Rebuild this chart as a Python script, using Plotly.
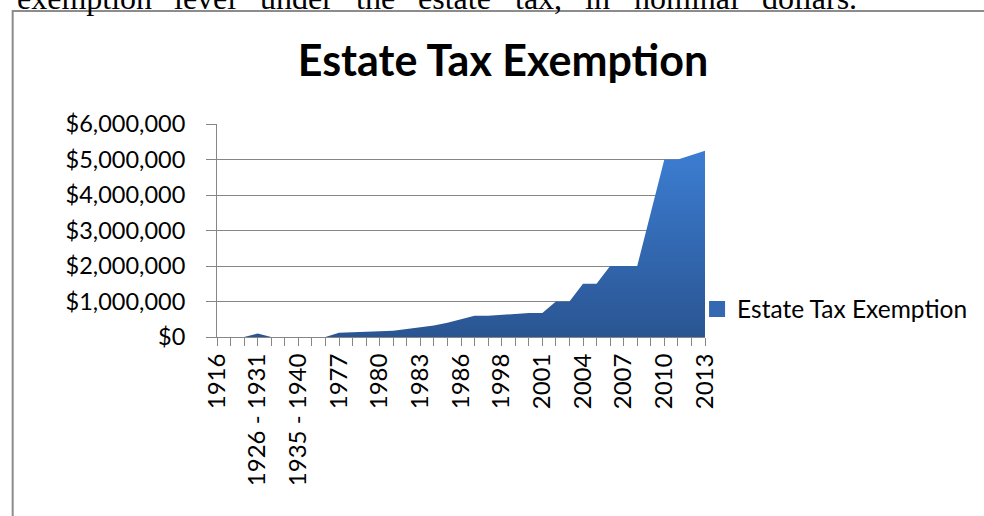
import plotly.graph_objects as go

categories = ["1916", "1917 - 1923", "1924 - 1925", "1926 - 1931", "1932 - 1933", "1934",
              "1935 - 1940", "1941", "1942 - 1976", "1977", "1978", "1979", "1980", "1981",
              "1982", "1983", "1984", "1985", "1986", "1987", "1988 - 1997", "1998", "1999",
              "2000", "2001", "2002", "2003", "2004", "2005", "2006", "2007", "2008", "2009",
              "2010", "2011", "2012", "2013"]
exemption = [0, 0, 0, 100000, 0, 0, 0, 0, 0, 120000, 134000, 147000, 161000, 175000,
             225000, 275000, 325000, 400000, 500000, 600000, 600000, 625000, 650000,
             675000, 675000, 1000000, 1000000, 1500000, 1500000, 2000000, 2000000, 2000000,
             3500000, 5000000, 5000000, 5120000, 5250000]
series_name = "Estate Tax Exemption"
y_ticks = [0, 1000000, 2000000, 3000000, 4000000, 5000000, 6000000]
y_ticktext = ["$0", "$1,000,000", "$2,000,000", "$3,000,000", "$4,000,000", "$5,000,000", "$6,000,000"]
caption_words = ["exemption", "level", "under", "the", "estate", "tax,", "in", "nominal", "dollars."]

W, H = 984, 516
L, R, T, B = 217, 709, 124, 337


def px2x(p):
    return (p - L) / (R - L)


def px2y(p):
    return (B - p) / (B - T)


idx = list(range(len(categories)))
label_idx = idx[::3]

FONT = "Lato"
fig = go.Figure()
fig.add_trace(go.Scatter(
    x=idx, y=exemption, mode="lines", fill="tozeroy",
    line=dict(width=0, color="#2f5f9f"),
    fillgradient=dict(type="vertical",
                      colorscale=[[0, "#2a5592"], [1, "#3c7dd2"]]),
    showlegend=False, hoverinfo="skip"))
fig.add_trace(go.Scatter(
    x=[None], y=[None], mode="markers", name=series_name,
    marker=dict(symbol="square", size=18, color="#3468b2"),
    showlegend=True))

word_x = [13, 172, 258, 355, 418, 515, 586, 635, 764]
annotations = []
for w, xp in zip(caption_words, word_x):
    annotations.append(dict(text=w, x=px2x(xp), y=px2y(-2), xref="paper", yref="paper",
                            xanchor="left", yanchor="middle", showarrow=False,
                            font=dict(family="Liberation Serif", size=32, color="#000000")))

fig.update_layout(
    width=W, height=H,
    margin=dict(l=L, r=W - R, t=T, b=H - B, pad=0),
    paper_bgcolor="white", plot_bgcolor="white",
    title=dict(text="<b>Estate Tax Exemption</b>", x=503 / W, xanchor="center",
               y=1 - 61 / H, yanchor="middle",
               font=dict(family=FONT, size=43, color="#000000")),
    xaxis=dict(range=[0, len(categories) - 1], tickmode="array", tickvals=label_idx,
               ticktext=[categories[i] for i in label_idx], tickangle=-90,
               ticks="outside", ticklen=8, tickcolor="#868686", tickwidth=1,
               ticklabelstandoff=-2,
               minor=dict(dtick=1, tick0=0, ticks="outside", ticklen=8,
                          tickcolor="#868686", tickwidth=1, showgrid=False),
               showline=True, linecolor="#868686", linewidth=1, showgrid=False,
               zeroline=False, tickfont=dict(family=FONT, size=24, color="#000000")),
    yaxis=dict(range=[0, 6000000], tickmode="array", tickvals=y_ticks, ticktext=y_ticktext,
               ticks="outside", ticklen=10, tickcolor="#868686", tickwidth=1,
               ticklabelstandoff=16,
               showline=True, linecolor="#868686", linewidth=1,
               showgrid=True, gridcolor="#868686", gridwidth=1, zeroline=False,
               tickfont=dict(family=FONT, size=23.5, color="#000000")),
    legend=dict(x=px2x(701), y=px2y(309), xanchor="left", yanchor="middle",
                bgcolor="rgba(0,0,0,0)", font=dict(family=FONT, size=24.5, color="#000000"),
                itemsizing="trace"),
    annotations=annotations,
    shapes=[dict(type="rect", xref="paper", yref="paper",
                 x0=px2x(11), x1=px2x(W + 20), y0=px2y(11), y1=px2y(H + 20),
                 line=dict(color="#8c8c8c", width=2), fillcolor="rgba(0,0,0,0)", layer="below")],
    showlegend=True,
)

fig.write_html("out.html", config={"displayModeBar": False},
               post_script="document.body.style.margin='0px';document.body.style.overflow='hidden';")
